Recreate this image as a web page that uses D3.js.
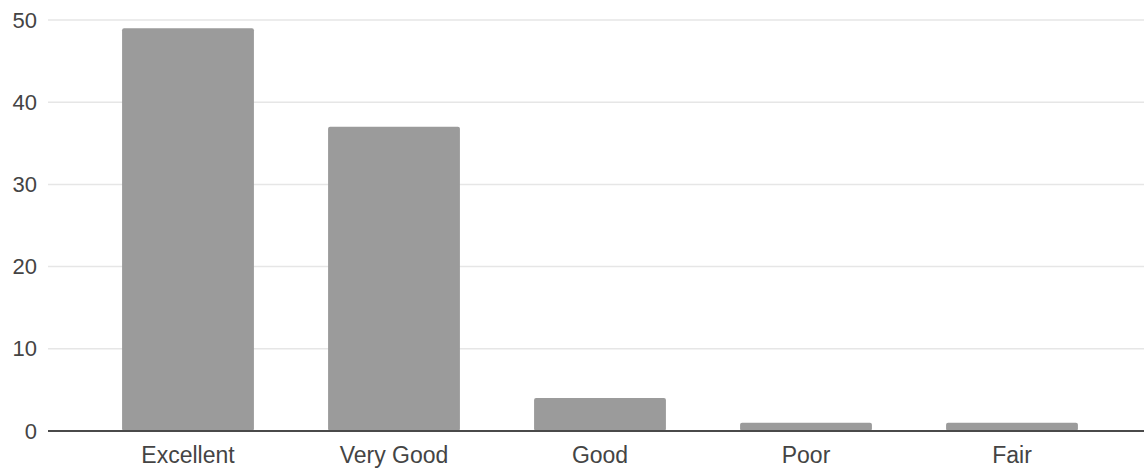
<!DOCTYPE html>
<html>
<head>
<meta charset="utf-8">
<title>Ratings</title>
<script src="https://d3js.org/d3.v7.min.js"></script>
<style>
  body { margin: 0; background: #fff; }
  svg { display: block; }
</style>
</head>
<body>
<svg width="1144" height="468"></svg>
<script>
    // values
    const categories = ["Excellent", "Very Good", "Good", "Poor", "Fair"];
    const counts = [49, 37, 4, 1, 1];
    const yTicks = [0, 10, 20, 30, 40, 50];

    const data = categories.map((c, i) => ({ cat: c, n: counts[i] }));

    const svg = d3.select("svg");

    const x = d3.scaleBand()
        .domain(categories)
        .range([85, 1115])
        .paddingInner(0.36)
        .paddingOuter(0.18);

    const y = d3.scaleLinear()
        .domain([0, 50])
        .range([431, 20]);

    // gridlines
    svg.append("g")
        .selectAll("line")
        .data(yTicks.filter(d => d > 0))
        .enter().append("line")
            .attr("x1", 48)
            .attr("x2", 1144)
            .attr("y1", d => y(d))
            .attr("y2", d => y(d))
            .attr("stroke", "#e6e6e6")
            .attr("stroke-width", 1.5);

    // y axis labels
    const yAxis = svg.append("g")
        .attr("transform", "translate(48,0)")
        .call(d3.axisLeft(y).tickValues(yTicks).tickSize(0).tickPadding(11));
    yAxis.select(".domain").remove();
    yAxis.selectAll("text")
        .attr("font-family", "Liberation Sans, Arial, sans-serif")
        .attr("font-size", "22px")
        .attr("fill", "#444");

    // bars
    svg.append("g")
        .selectAll("rect")
        .data(data)
        .enter().append("rect")
            .attr("x", d => x(d.cat))
            .attr("y", d => y(d.n))
            .attr("width", x.bandwidth())
            .attr("height", d => y(0) - y(d.n))
            .attr("rx", 2)
            .attr("fill", "#9b9b9b");

    // baseline + category labels
    const xAxis = svg.append("g")
        .attr("transform", "translate(0," + y(0) + ")")
        .call(d3.axisBottom(x).tickSize(0).tickPadding(16));
    xAxis.select(".domain")
        .attr("d", "M48,0H1144")
        .attr("stroke", "#4a4a4a")
        .attr("stroke-width", 2);
    xAxis.selectAll("text")
        .attr("font-family", "Liberation Sans, Arial, sans-serif")
        .attr("font-size", "23px")
        .attr("fill", "#444");
</script>
</body>
</html>
